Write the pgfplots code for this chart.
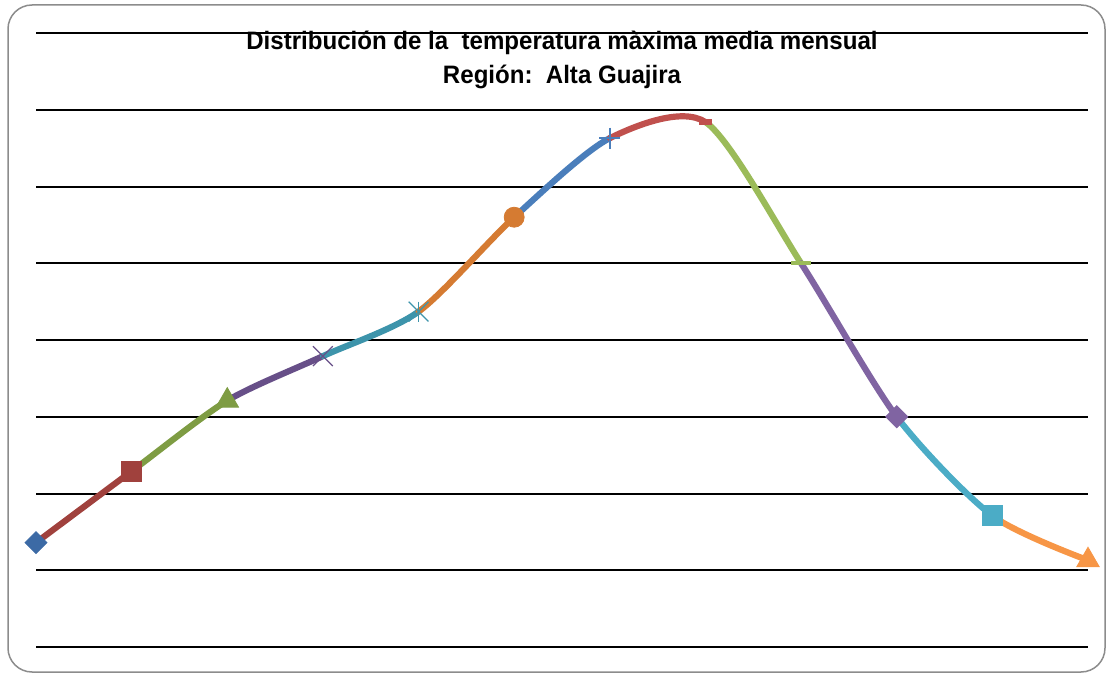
\documentclass[border=0pt]{standalone}
\usepackage{fontspec}
\setmainfont{Liberation Sans}[FakeStretch=0.955]
\usepackage{pgfplots}
\pgfplotsset{compat=1.18}
\usepackage{pgfplotstable}
\usepgfplotslibrary{fillbetween}

% Excel "vary colours by point" palette
\definecolor{c1}{HTML}{3C6AA5}
\definecolor{c2}{HTML}{A0413D}
\definecolor{c3}{HTML}{7E9C43}
\definecolor{c4}{HTML}{674F88}
\definecolor{c5}{HTML}{3D94AB}
\definecolor{c6}{HTML}{D57B32}
\definecolor{c7}{HTML}{4A7EBB}
\definecolor{c8}{HTML}{C0504D}
\definecolor{c9}{HTML}{9BBB59}
\definecolor{c10}{HTML}{8064A2}
\definecolor{c11}{HTML}{4BACC6}
\definecolor{c12}{HTML}{F79646}
\definecolor{frame}{HTML}{8C8C8C}

\pgfplotstableread{
m  t
1  31.36
2  32.29
3  33.21
4  33.79
5  34.37
6  35.60
7  36.63
8  36.84
9  35.00
10 33.00
11 31.71
12 31.13
}\tmax

% one marker per month, picked from the table by its index
\newcommand\pt[2]{\addplot[only marks,#2] table[x=m,y=t,restrict expr to domain={\coordindex}{#1:#1}] {\tmax};}
% one coloured piece of the smooth curve (#2: cut set, #3: piece)
\newcommand\seg[3]{\path[draw=#1,line width=3.1pt,line cap=round,intersection segments={of=curve and #2,sequence={#3}}];}

\begin{document}
\begin{tikzpicture}
\useasboundingbox (-18pt,-14.5pt) rectangle (537pt,323.5pt);
\begin{axis}[
  at={(0,0)}, anchor=south west,
  scale only axis, width=526pt, height=307pt,
  xmin=1, xmax=12, ymin=30, ymax=38,
  axis line style={draw=none},
  xtick=\empty, ytick={30,...,38}, yticklabels={},
  major tick length=0pt,
  ymajorgrids, grid style={black,line width=1pt},
  clip=false,
]
\addplot[smooth, tension=0.45, draw=none, name path=curve] table[x=m,y=t] {\tmax};
% vertical cuts just after months 2..6 and 6..11
\addplot[draw=none, name path=cutsA] coordinates {
  (2.001,0) (2.001,100) (3.001,100) (3.001,0) (4.001,0) (4.001,100)
  (5.001,100) (5.001,0) (6.001,0) (6.001,100)
};
\addplot[draw=none, name path=cutsB] coordinates {
  (6.001,0) (6.001,100) (7.001,100) (7.001,0) (8.001,0) (8.001,100)
  (9.001,100) (9.001,0) (10.001,0) (10.001,100) (11.001,100) (11.001,0)
};
\seg{c2}{cutsA}{L1}
\seg{c3}{cutsA}{L2}
\seg{c4}{cutsA}{L3}
\seg{c5}{cutsA}{L4}
\seg{c6}{cutsA}{L5}
\seg{c7}{cutsB}{L2}
\seg{c8}{cutsB}{L3}
\seg{c9}{cutsB}{L4}
\seg{c10}{cutsB}{L5}
\seg{c11}{cutsB}{L6}
\seg{c12}{cutsB}{L7}

\pt{0}{c1, mark=square*, mark size=3.9pt, mark options={rotate=45}}
\pt{1}{c2, mark=square*, mark size=5pt}
\pt{2}{c3, mark=triangle*, mark size=6.5pt}
\pt{3}{c4, mark=x, mark size=7pt, mark options={line width=0.6pt}}
\pt{4}{c5, mark=x, mark size=7pt, mark options={line width=0.6pt}}
\pt{4}{c5, mark=|, mark size=5pt, mark options={line width=0.6pt}}
\pt{5}{c6, mark=*, mark size=5pt}
\pt{6}{c7, mark=+, mark size=5.3pt, mark options={line width=0.7pt}}
\pt{7}{c8, mark=-, mark size=3.2pt, mark options={line width=2.7pt}}
\pt{8}{c9, mark=-, mark size=5pt, mark options={line width=2pt}}
\pt{9}{c10, mark=square*, mark size=3.9pt, mark options={rotate=45}}
\pt{10}{c11, mark=square*, mark size=5pt}
\pt{11}{c12, mark=triangle*, mark size=6.5pt}
\end{axis}
\draw[frame, line width=0.75pt, rounded corners=12pt] (-14pt,-12.5pt) rectangle (534.5pt,321pt);
\node[anchor=base, inner sep=0pt, font=\bfseries\fontsize{12.6}{15}\selectfont] at (263pt,298.5pt) {Distribución de la\ \ temperatura màxima media mensual};
\node[anchor=base, inner sep=0pt, font=\bfseries\fontsize{12.6}{15}\selectfont] at (263pt,281.5pt) {Región:\ \ Alta Guajira};
\end{tikzpicture}
\end{document}
